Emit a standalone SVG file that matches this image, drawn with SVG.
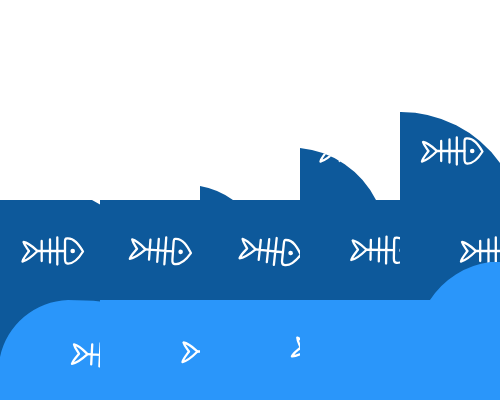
<svg xmlns="http://www.w3.org/2000/svg" width="500" height="400" viewBox="0 0 500 400">
<style>
.dark{fill:#0d599b}
.light{fill:#2a96fa}
.fish{fill:none;stroke:#fff;stroke-width:2.300;stroke-linecap:round;stroke-linejoin:round}
.eye{fill:#fff}
</style>
<defs>
<g id="fish">
<path class="fish" d="M-29.500,-9 C-24,-8 -19.500,-3.500 -15.500,0 C-19.500,4 -25,9.500 -30.500,10.500 C-29.500,6.500 -26,3 -24,0 C-26,-3 -28.500,-5.500 -29.500,-9 Z"/>
<path class="fish" d="M-15.500,0 H12 M-11.300,-10 V10 M-3,-11.500 V11.500 M4.300,-13.500 V13.500"/>
<path class="fish" d="M13.500,-12.500 C21,-13.500 26,-6 30,0.500 C26,7 21,13 14.500,12.500 C12.500,12.500 12,10.500 12,8 V-9 C12,-11 12,-12.500 13.500,-12.500 Z"/>
<circle class="eye" cx="19.700" cy="0" r="2.300"/>
</g>
<clipPath id="c100"><path d="M0,200H92L100,204.500V300H0Z"/></clipPath>
<clipPath id="c101"><rect x="100" y="200" width="100" height="100"/></clipPath>
<clipPath id="c102"><rect x="200" y="200" width="100" height="100"/></clipPath>
<clipPath id="c103"><rect x="300" y="200" width="100" height="100"/></clipPath>
<clipPath id="c104"><rect x="400" y="200" width="100" height="100"/></clipPath>
<clipPath id="c300"><path d="M300,148A95,95 0 0 1 376,200V300H300Z"/></clipPath>
<clipPath id="c400"><path d="M400,112A122,122 0 0 1 500,163V300H400Z"/></clipPath>
<clipPath id="r0"><rect x="0" y="300" width="100" height="100"/></clipPath>
<clipPath id="r1"><rect x="100" y="300" width="100" height="100"/></clipPath>
<clipPath id="r2"><rect x="200" y="300" width="100" height="100"/></clipPath>
</defs>
<rect width="500" height="400" fill="#fff"/>
<g id="dark-tiles">
<path class="dark" d="M0,200H92L100,204.500V200H200V186A80,80 0 0 1 233,200H300V148A95,95 0 0 1 376,200H400V112A122,122 0 0 1 500,163V400H0Z"/>
</g>
<g id="fish-upper">
<g clip-path="url(#c300)"><use href="#fish" transform="translate(351,151)"/></g>
<g clip-path="url(#c400)"><use href="#fish" transform="translate(452.500,151)"/></g>
<g clip-path="url(#c100)"><use href="#fish" transform="translate(53,251)"/></g>
<g clip-path="url(#c101)"><use href="#fish" transform="translate(161,250.500) rotate(4)"/></g>
<g clip-path="url(#c102)"><use href="#fish" transform="translate(271,251) rotate(6)"/></g>
<g clip-path="url(#c103)"><use href="#fish" transform="translate(382,250) rotate(1)"/></g>
<g clip-path="url(#c104)"><use href="#fish" transform="translate(491.500,251)"/></g>
</g>
<g id="light-shape">
<path class="light" d="M0,357A72,72 0 0 1 68,300Q88,300 100,301.500V300H430A85,85 0 0 1 490,262H500V400H0Z"/>
</g>
<g id="fish-lower">
<g clip-path="url(#r0)"><use href="#fish" transform="translate(103,355) rotate(3)"/></g>
<g clip-path="url(#r1)"><use href="#fish" transform="translate(213,351.500)"/></g>
<g clip-path="url(#r2)"><use href="#fish" transform="translate(324,353) rotate(13)"/></g>
</g>
</svg>
